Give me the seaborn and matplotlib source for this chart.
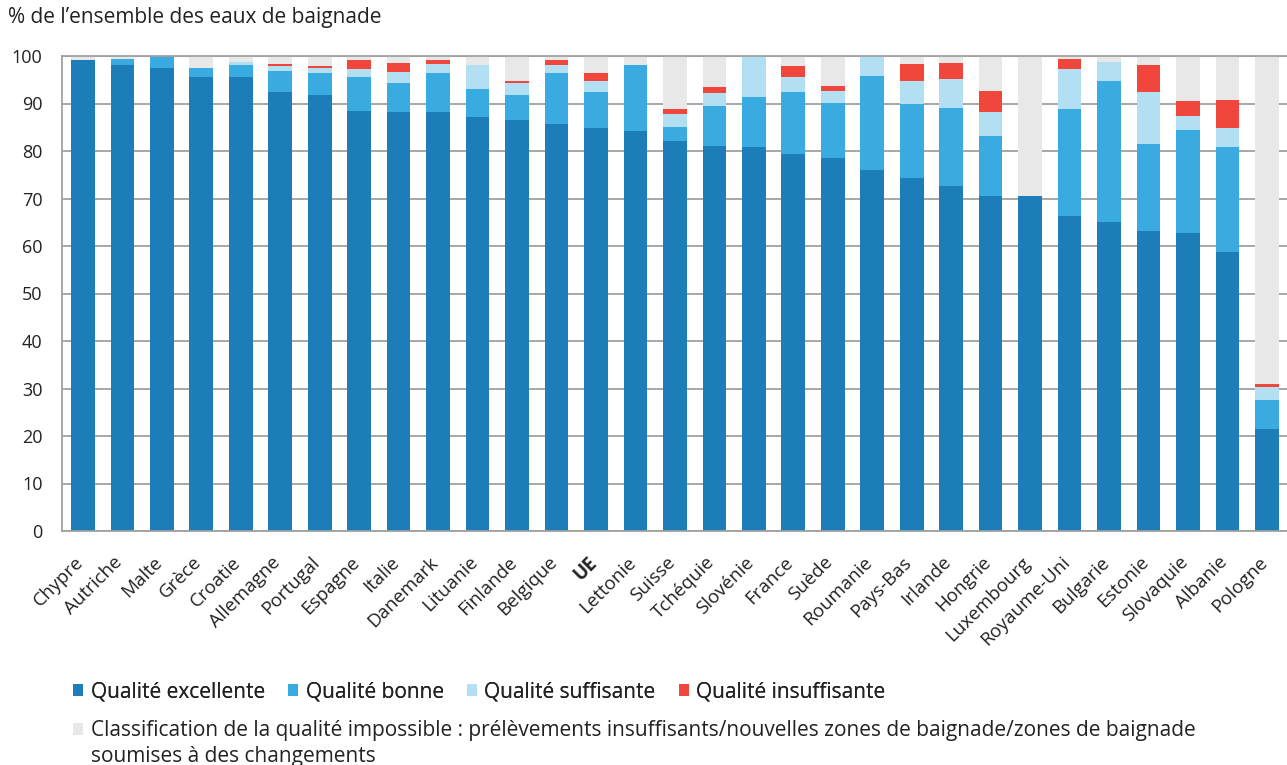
import matplotlib
matplotlib.use("Agg")
import matplotlib.pyplot as plt
import matplotlib.transforms as mtransforms
from matplotlib.patches import Patch
import numpy as np
import pandas as pd
import seaborn as sns

countries = ["Chypre", "Autriche", "Malte", "Grèce", "Croatie", "Allemagne", "Portugal",
             "Espagne", "Italie", "Danemark", "Lituanie", "Finlande", "Belgique", "UE",
             "Lettonie", "Suisse", "Tchéquie", "Slovénie", "France", "Suède", "Roumanie",
             "Pays-Bas", "Irlande", "Hongrie", "Luxembourg", "Royaume-Uni", "Bulgarie",
             "Estonie", "Slovaquie", "Albanie", "Pologne"]

excellente = [99.1, 98.2, 97.4, 95.5, 95.5, 92.5, 91.8, 88.5, 88.2, 88.2, 87.1, 86.5, 85.7, 84.8,
              84.2, 82.1, 81.1, 80.8, 79.4, 78.5, 75.9, 74.4, 72.7, 70.6, 70.6, 66.4, 65.1,
              63.1, 62.8, 58.7, 21.4]
bonne = [0.0, 1.2, 2.6, 2.0, 2.7, 4.4, 4.7, 7.0, 6.2, 8.3, 6.0, 5.2, 10.8, 7.7,
         14.0, 3.0, 8.4, 10.6, 13.1, 11.7, 19.9, 15.4, 16.4, 12.5, 0.0, 22.4, 29.7,
         18.4, 21.7, 22.1, 6.2]
suffisante = [0.0, 0.0, 0.0, 0.0, 0.6, 1.1, 0.9, 1.7, 2.3, 1.9, 5.1, 2.7, 1.7, 2.3,
              0.0, 2.6, 2.7, 8.6, 3.1, 2.4, 4.2, 5.0, 6.0, 5.2, 0.0, 8.4, 3.9,
              10.9, 2.9, 4.0, 2.8]
insuffisante = [0.0, 0.0, 0.0, 0.0, 0.0, 0.4, 0.4, 1.9, 1.8, 0.8, 0.0, 0.4, 0.9, 1.7,
                0.0, 1.1, 1.2, 0.0, 2.2, 1.1, 0.0, 3.5, 3.4, 4.3, 0.0, 2.2, 0.0,
                5.8, 3.1, 5.9, 0.5]

labels = ["Qualité excellente", "Qualité bonne", "Qualité suffisante", "Qualité insuffisante"]
label_impossible_1 = ("Classification de la qualité impossible : prélèvements insuffisants/"
                      "nouvelles zones de baignade/zones de baignade")
label_impossible_2 = "soumises à des changements"
ylabel = "% de l’ensemble des eaux de baignade"

colors = ["#1d7db9", "#3aabe0", "#b3dff3", "#f1463c"]
grey = "#e8e8e8"
grid_col = "#a0a0a0"
text_col = "#222222"

df = pd.DataFrame({"pays": countries, "exc": excellente, "bon": bonne,
                   "suf": suffisante, "ins": insuffisante})
df["c1"] = df["exc"]
df["c2"] = df["c1"] + df["bon"]
df["c3"] = df["c2"] + df["suf"]
df["c4"] = df["c3"] + df["ins"]
df["total"] = 100.0

sns.set_style("white")
plt.rcParams["font.family"] = ["Open Sans", "DejaVu Sans"]
plt.rcParams["text.color"] = text_col

fig = plt.figure(figsize=(12.87, 7.65), dpi=100)
ax = fig.add_axes([62 / 1287, 1 - 531 / 765, (1287 - 62) / 1287, (531 - 56) / 765])

layers = [("total", grey), ("c4", colors[3]), ("c3", colors[2]), ("c2", colors[1]), ("c1", colors[0])]
for col, c in layers:
    sns.barplot(data=df, x="pays", y=col, order=countries, color=c, saturation=1,
                width=0.6, linewidth=0, ax=ax, zorder=2)

ax.set_xlim(-0.53, len(countries) - 0.49)
ax.set_ylim(0, 100)
ax.set_yticks(np.arange(0, 101, 10))
ax.yaxis.grid(True, color=grid_col, linewidth=1.3, zorder=0)
ax.set_axisbelow(True)
ax.set_xlabel("")
ax.set_ylabel("")

ax.spines["right"].set_visible(False)
for s in ["left", "bottom", "top"]:
    ax.spines[s].set_color(grid_col)
    ax.spines[s].set_linewidth(1.3)

fs_tick = 13
fs_xlab = 13.5
fs_text = 15
ax.tick_params(axis="y", which="major", length=4, color=grid_col, width=1.2,
               pad=10, labelsize=fs_tick, labelcolor=text_col)
ax.set_xticks(range(len(countries)))
ax.set_xticklabels(countries, rotation=45, ha="right", va="top",
                   rotation_mode="anchor", fontsize=fs_xlab, color=text_col)
ax.tick_params(axis="x", which="major", length=0, pad=8)
ax.set_xticks(np.arange(len(countries)) - 0.5, minor=True)
ax.tick_params(axis="x", which="minor", length=5, color=grid_col, width=1.2)
offset = mtransforms.ScaledTranslation(-9 / 100, -11 / 100, fig.dpi_scale_trans)
for t in ax.get_xticklabels():
    t.set_transform(t.get_transform() + offset)
    if t.get_text() == "UE":
        t.set_fontweight("bold")

fig.text(8 / 1287, 1 - 18 / 765, ylabel, fontsize=fs_text, va="center", ha="left", color=text_col)

handles = [Patch(facecolor=c, edgecolor="none") for c in colors]
leg1 = fig.legend(handles, labels, loc="center left", bbox_to_anchor=(73 / 1287, 1 - 692 / 765),
                  ncol=4, frameon=False, fontsize=fs_text, handlelength=0.5, handleheight=0.5,
                  handletextpad=0.35, columnspacing=1.1, borderaxespad=0, borderpad=0)
fig.add_artist(leg1)
h_grey = [Patch(facecolor=grey, edgecolor="none"), Patch(facecolor="none", edgecolor="none")]
leg2 = fig.legend(h_grey, [label_impossible_1, label_impossible_2], loc="upper left",
                  bbox_to_anchor=(73 / 1287, 1 - 720 / 765), ncol=1, frameon=False, fontsize=fs_text,
                  handlelength=0.5, handleheight=0.5, handletextpad=0.35,
                  labelspacing=0.22, borderaxespad=0, borderpad=0)

fig.savefig("out.png", dpi=100)
